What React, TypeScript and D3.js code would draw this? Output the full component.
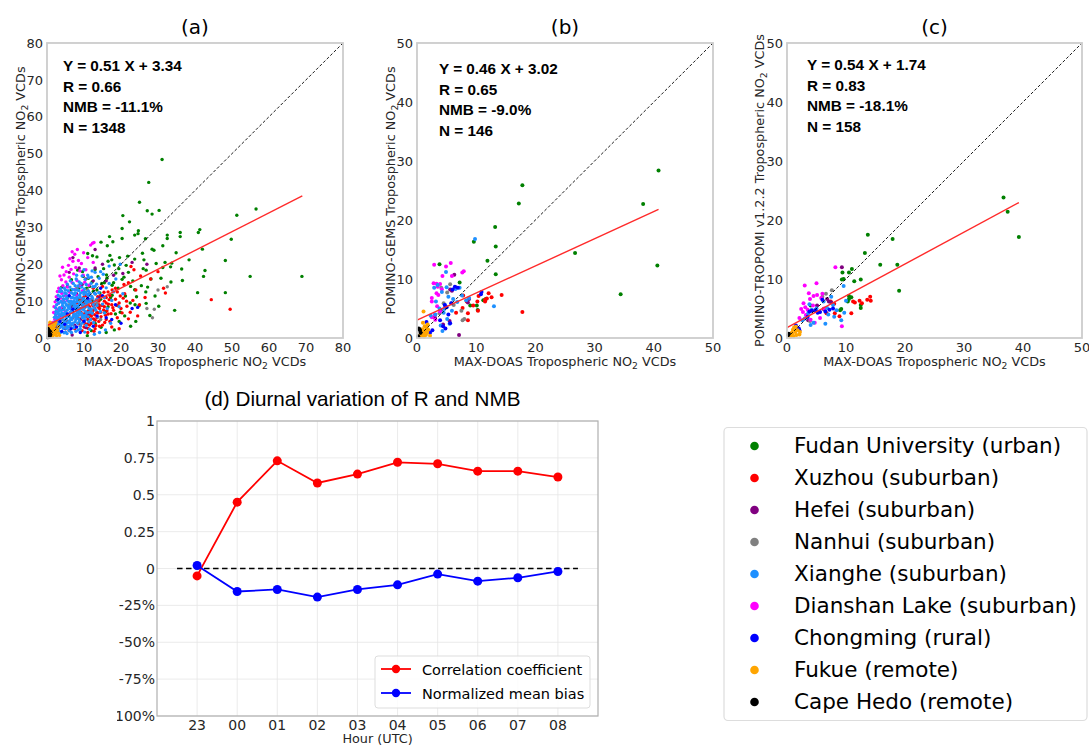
import React from "react";
import * as d3 from "d3";

type Pt = [number, number];

// ---------- site legend ----------
const SITE_NAMES = [
  "Fudan University (urban)",
  "Xuzhou (suburban)",
  "Hefei (suburban)",
  "Nanhui (suburban)",
  "Xianghe (suburban)",
  "Dianshan Lake (suburban)",
  "Chongming (rural)",
  "Fukue (remote)",
  "Cape Hedo (remote)",
];
const SITE_COLORS = ["#008000", "#ff0000", "#800080", "#808080", "#1e90ff", "#ff00ff", "#0000ff", "#ffa500", "#000000"];
// order in which the site groups are drawn (index into the lists above)
const DRAW_ORDER = [0, 1, 2, 3, 5, 4, 6, 7, 8];

// ---------- panel (a): POMINO-GEMS, all hours ----------
const A_FUDAN: Pt[] = [
  [31.1, 48.4], [27.5, 42.2], [25.0, 36.8], [27.1, 34.5], [28.4, 33.6], [30.3, 34.6], [20.5, 33.2], [22.3, 31.5],
  [20.3, 29.7], [23.7, 27.9], [24.7, 29.1], [24.6, 28.3], [16.9, 27.5], [17.8, 26.1], [20.3, 27.0], [26.6, 26.9],
  [31.3, 25.0], [32.5, 27.9], [32.5, 27.0], [36.0, 28.6], [36.0, 27.5], [41.3, 29.4], [40.9, 28.6], [51.3, 33.3],
  [56.5, 35.0], [49.8, 26.8], [42.0, 24.1], [34.9, 23.1], [38.4, 21.2], [36.4, 18.7], [42.7, 18.3], [42.3, 16.7],
  [48.2, 21.0], [54.9, 16.7], [68.9, 16.7], [40.7, 12.3], [48.2, 12.3], [36.6, 15.6], [34.5, 7.5], [30.2, 8.6],
  [28.1, 16.0], [31.3, 19.1], [33.4, 19.3], [33.7, 20.3], [31.9, 20.5], [28.4, 24.1], [28.9, 23.8], [26.2, 21.2],
  [23.7, 21.4], [26.8, 18.4], [21.4, 19.7], [19.4, 18.8], [16.3, 25.0], [14.6, 26.0], [17.0, 22.4], [16.5, 20.8],
  [17.5, 21.2], [13.5, 22.0], [12.3, 22.3], [11.0, 22.9], [13.0, 18.6], [16.1, 17.1], [18.6, 17.6], [20.3, 15.9],
  [17.6, 14.3], [22.6, 14.0], [23.7, 13.1], [26.7, 12.5], [23.8, 9.0], [24.9, 8.8], [27.8, 6.1], [21.2, 11.4],
  [17.6, 11.6], [14.3, 12.2], [12.5, 12.6], [10.7, 13.5], [8.6, 13.4], [4.0, 13.8], [2.6, 10.2], [14.0, 8.6],
  [15.8, 7.1], [11.3, 5.8], [14.6, 2.9], [10.9, 0.6], [8.3, 7.5], [19.0, 8.8], [6.6, 15.8], [9.8, 16.7],
  [8.3, 18.4], [5.5, 11.0], [7.0, 9.0], [8.5, 10.5], [10.0, 12.5], [11.5, 14.0], [12.5, 10.0], [9.0, 14.5],
  [6.5, 13.0], [13.5, 13.0], [14.5, 10.5], [15.5, 15.0], [4.5, 8.0], [16.5, 8.5], [18.5, 6.5], [19.5, 4.5],
  [21.0, 6.0], [22.5, 9.5], [13.0, 4.0], [12.0, 2.0], [16.0, 1.5], [14.8, 14.8], [16.2, 16.2], [18.0, 15.0],
  [19.2, 13.5], [20.8, 16.5], [22.0, 17.8], [23.2, 15.5], [24.2, 11.2], [25.5, 14.2], [27.2, 13.8], [18.2, 19.8],
  [15.3, 18.8], [13.8, 16.6], [12.2, 15.2], [11.2, 16.2], [9.6, 18.0], [21.8, 22.2], [25.8, 23.0], [29.5, 20.2],
  [30.8, 16.2], [33.5, 15.2], [26.0, 18.8], [19.6, 21.8], [17.2, 11.0], [19.8, 7.0], [24.0, 4.5], [22.6, 3.2],
  [18.2, 2.2], [26.8, 9.4], [29.2, 11.4],
];
const A_XUZHOU: Pt[] = [
  [44.4, 10.4], [49.5, 7.8], [32.0, 12.2], [22.7, 19.4], [23.5, 18.5], [25.3, 16.8], [22.0, 15.0], [20.8, 14.5],
  [19.0, 12.5], [24.0, 13.0], [26.5, 11.0], [21.5, 10.0], [19.5, 9.5], [17.5, 9.0], [16.0, 11.0], [15.0, 14.0],
  [14.0, 10.0], [13.0, 9.0], [12.5, 7.5], [11.5, 8.5], [10.5, 7.0], [9.5, 6.0], [11.0, 5.0], [12.0, 4.0],
  [13.5, 5.5], [14.5, 7.0], [15.5, 8.5], [16.5, 6.5], [17.0, 4.5], [18.0, 7.5], [10.0, 3.0], [8.5, 4.0],
  [9.0, 8.0], [8.0, 9.5], [10.0, 9.5], [12.0, 10.5], [13.0, 12.0], [14.5, 11.5], [16.5, 12.5], [18.5, 10.5],
  [20.0, 8.0], [22.5, 7.0], [24.5, 6.0], [19.0, 5.5], [15.0, 3.5], [13.0, 2.5], [11.0, 1.5], [9.5, 2.0],
  [7.5, 2.5], [6.5, 3.5], [7.0, 5.5], [12.0, 6.0], [13.5, 7.0], [11.0, 9.0], [9.0, 10.5], [10.5, 11.5],
  [15.5, 10.0], [17.0, 11.5], [18.5, 13.5], [21.0, 12.0], [28.0, 16.0], [31.5, 13.5], [30.0, 18.0], [12.5, 13.5],
  [11.5, 12.0], [14.0, 9.0], [16.0, 9.5], [10.0, 6.5], [8.5, 7.0], [11.5, 3.5], [14.0, 4.5], [16.0, 5.0],
  [17.5, 3.0], [19.5, 2.5], [6.0, 2.0], [5.5, 4.5], [12.8, 8.1], [11.2, 7.4], [13.8, 8.4], [10.8, 10.2],
  [12.3, 9.2], [14.8, 8.8], [9.8, 4.6], [10.6, 5.8], [12.6, 5.2], [13.2, 3.4], [15.8, 6.2], [17.8, 8.2],
  [20.6, 10.8], [22.0, 5.2], [25.0, 9.0], [11.8, 6.6], [8.9, 5.2], [10.3, 8.4], [16.8, 10.4], [9.2, 6.9],
  [10.1, 4.0], [11.3, 6.2], [12.2, 7.0], [12.9, 6.3], [13.8, 6.8], [14.6, 5.8], [15.3, 7.6], [16.2, 7.4],
  [17.3, 6.6], [11.6, 8.0], [10.8, 8.8], [12.4, 8.8], [13.4, 10.4], [14.2, 8.0], [15.0, 9.0], [16.6, 9.2],
  [9.6, 8.9], [8.2, 5.6], [9.0, 3.4], [10.9, 3.8], [12.0, 5.2], [13.0, 4.8], [14.2, 3.2], [15.6, 4.2],
  [18.8, 8.9], [19.8, 11.4], [21.6, 8.6], [23.2, 10.2], [20.3, 6.8], [11.1, 2.6], [12.7, 1.8], [9.9, 11.0],
  [13.7, 11.2], [15.4, 12.4], [17.6, 13.0], [7.9, 7.9], [8.8, 9.2],
];
const A_HEFEI: Pt[] = [
  [23.0, 20.5], [27.0, 20.0], [13.0, 24.0], [7.0, 21.8], [5.5, 14.0], [6.5, 8.5], [8.0, 12.0], [9.5, 14.5],
  [10.5, 16.0], [11.5, 10.0], [12.5, 15.5], [14.0, 11.0], [3.5, 6.0], [4.5, 10.5], [7.5, 3.5], [9.0, 5.0],
  [10.5, 2.8], [5.0, 2.5], [13.0, 19.0], [16.0, 15.5], [18.0, 17.0], [6.0, 17.8], [8.7, 19.0], [3.0, 3.2],
  [11.0, 6.5], [20.5, 17.5], [15.0, 20.0], [6.8, 0.8],
];
const A_NANHUI: Pt[] = [
  [32.5, 13.9], [28.5, 5.5], [29.0, 7.8], [27.0, 8.0], [6.0, 9.0], [7.5, 6.0], [9.0, 10.0], [10.0, 8.2],
  [12.0, 7.2], [4.0, 5.0], [5.0, 3.0], [11.0, 13.0], [8.0, 13.5], [13.5, 9.5], [3.0, 2.0], [14.5, 5.0], [30.0, 13.0],
];
const A_XIANGHE: Pt[] = [
  [2.1, 2.5], [2.4, 3.8], [2.8, 5.1], [3.0, 2.2], [3.3, 4.4], [3.5, 6.3], [3.7, 3.1], [3.9, 7.5], [4.1, 5.2],
  [4.2, 8.8], [4.4, 2.6], [4.6, 6.1], [4.8, 9.7], [5.0, 4.0], [5.1, 7.0], [5.3, 10.6], [5.5, 3.3], [5.6, 5.8],
  [5.8, 8.3], [6.0, 11.4], [6.1, 4.7], [6.3, 6.9], [6.5, 9.2], [6.6, 12.3], [6.8, 3.7], [7.0, 5.6], [7.1, 7.8],
  [7.3, 10.1], [7.5, 13.0], [7.6, 4.4], [7.8, 6.5], [8.0, 8.7], [8.2, 11.0], [8.4, 14.1], [8.5, 5.2], [8.7, 7.3],
  [8.9, 9.6], [9.1, 12.2], [9.3, 3.9], [9.5, 6.2], [9.7, 8.4], [9.9, 10.7], [10.1, 13.3], [10.3, 4.9], [10.5, 7.1],
  [10.7, 9.3], [10.9, 11.8], [11.1, 5.8], [11.4, 8.0], [11.6, 10.4], [11.9, 14.8], [12.2, 6.7], [12.5, 9.1],
  [12.8, 12.2], [13.2, 7.6], [13.6, 10.5], [14.1, 16.2], [14.5, 18.0], [15.2, 17.3], [13.0, 17.8], [12.0, 16.5],
  [16.8, 19.5], [18.0, 12.5], [17.2, 4.0], [15.8, 2.2], [14.2, 1.5], [12.8, 1.0], [11.5, 2.4], [10.2, 1.6],
  [19.5, 8.5], [20.5, 12.0], [2.6, 4.5], [3.1, 5.7], [3.4, 8.2], [3.8, 9.9], [4.3, 4.1], [4.5, 10.5], [4.9, 6.7],
  [5.2, 12.0], [5.4, 8.9], [5.7, 6.4], [5.9, 4.5], [6.2, 8.0], [6.4, 10.0], [6.7, 5.0], [6.9, 11.0], [7.2, 6.2],
  [7.4, 8.9], [7.7, 12.2], [7.9, 5.5], [8.1, 9.9], [8.3, 7.0], [8.6, 12.9], [8.8, 4.6], [9.0, 11.0], [9.2, 7.9],
  [9.4, 13.8], [9.6, 5.5], [9.8, 9.0], [10.0, 11.8], [10.4, 6.2], [10.6, 14.5], [10.8, 8.6], [11.2, 12.7],
  [11.5, 7.0], [11.8, 9.7], [12.1, 11.3], [12.4, 13.9], [12.7, 8.2], [13.1, 11.9], [13.4, 14.6], [2.3, 6.4],
  [2.9, 7.0], [3.2, 9.5], [3.6, 11.2], [4.0, 12.7], [4.7, 13.5], [5.5, 14.6], [6.3, 15.5], [7.1, 14.8],
  [7.9, 16.0], [8.7, 15.2], [9.5, 16.8], [10.3, 15.9], [11.0, 17.0], [6.0, 2.0], [7.2, 2.8], [8.4, 2.2],
  [5.0, 1.6], [3.6, 1.4], [2.6, 1.9], [4.1, 3.3], [5.7, 2.9], [6.9, 9.7], [7.6, 10.8], [8.2, 6.0], [9.0, 6.8],
  [9.9, 7.6], [5.3, 5.4], [4.6, 7.7], [3.9, 6.2], [6.6, 7.6], [7.4, 11.7], [10.6, 10.2], [11.3, 11.5],
  [12.9, 10.0], [14.0, 12.3], [15.0, 9.2], [16.0, 13.6], [13.7, 5.7], [15.5, 6.8], [17.5, 10.2], [16.3, 8.0],
  [1.8, 2.0], [2.0, 3.2], [2.2, 4.4], [2.5, 5.6], [2.7, 2.8], [2.9, 3.6], [3.1, 6.6], [3.3, 7.4], [3.4, 2.8],
  [3.6, 5.0], [3.8, 3.8], [4.0, 6.8], [4.2, 9.5], [4.3, 5.8], [4.5, 3.5], [4.7, 8.3], [4.8, 4.8], [5.0, 6.2],
  [5.2, 9.1], [5.3, 2.6], [5.5, 7.6], [5.6, 4.2], [5.8, 10.0], [6.0, 6.0], [6.1, 8.6], [6.2, 3.2], [6.4, 5.4],
  [6.5, 11.0], [6.7, 7.2], [6.8, 9.4], [7.0, 4.0], [7.1, 6.8], [7.3, 8.2], [7.4, 3.0], [7.6, 9.6], [7.8, 5.0],
  [8.0, 7.4], [8.1, 10.6], [8.3, 4.0], [8.5, 8.2], [8.6, 6.2], [8.8, 11.6], [9.0, 3.2], [9.2, 9.2], [9.4, 6.6],
  [9.6, 10.2], [9.8, 4.2], [10.0, 8.0], [10.2, 5.6], [10.4, 12.4], [10.6, 3.4], [10.8, 6.8], [11.0, 9.8],
  [11.3, 4.4], [11.6, 12.0], [11.9, 7.8], [12.3, 10.8], [2.3, 8.2], [2.6, 9.0], [2.8, 10.2], [3.0, 11.6],
  [3.4, 12.6], [3.7, 13.4], [4.4, 11.4], [5.0, 13.0], [5.7, 12.8], [6.2, 13.8], [6.9, 13.2], [7.6, 14.2],
  [8.2, 13.0], [9.2, 14.8], [9.8, 12.4], [3.9, 1.8], [4.6, 1.4], [5.4, 1.2], [6.6, 1.5], [7.8, 1.8], [9.0, 2.4],
  [2.0, 5.6], [1.6, 3.6], [1.4, 2.6], [6.3, 4.0], [5.1, 5.0], [4.4, 6.6], [3.5, 4.0], [7.5, 6.0], [8.9, 7.6],
  [9.7, 6.0], [10.3, 9.9], [6.0, 9.8], [5.4, 11.0], [4.8, 12.2], [7.0, 12.0], [7.9, 8.0], [8.7, 9.0], [3.2, 7.8],
  [2.4, 7.2], [11.8, 5.0], [12.6, 4.2], [13.5, 8.8], [14.4, 7.2], [13.0, 14.0], [15.5, 11.0], [16.8, 14.8],
  [18.6, 16.0], [19.8, 20.0], [11.2, 16.4], [12.2, 18.2], [8.0, 17.0], [10.0, 18.5],
];
const A_DIANSHAN: Pt[] = [
  [12.7, 25.9], [12.3, 25.7], [11.8, 25.2], [6.8, 23.4], [7.5, 22.7], [8.2, 24.0], [6.2, 21.5], [7.0, 20.8],
  [8.5, 21.0], [9.3, 20.2], [5.8, 19.7], [6.5, 18.6], [7.8, 19.1], [8.9, 18.2], [5.2, 18.0], [4.6, 17.1],
  [6.0, 16.5], [7.2, 17.4], [9.8, 17.0], [10.5, 18.5], [3.9, 15.8], [5.1, 15.2], [6.8, 15.0], [8.1, 15.6],
  [4.3, 14.2], [3.2, 13.5], [5.6, 13.8], [7.5, 13.2], [2.8, 12.6], [4.0, 12.1], [6.1, 12.4], [2.5, 11.2],
  [3.6, 10.8], [5.0, 11.5], [8.8, 14.1], [9.6, 12.8], [2.2, 9.8], [3.1, 9.4], [4.4, 9.9], [1.9, 8.5],
  [2.7, 7.8], [3.8, 8.2], [1.8, 6.9], [2.4, 6.2], [3.3, 5.6], [5.5, 10.2], [6.6, 10.9], [7.9, 11.6],
  [10.2, 15.1], [11.3, 14.3], [2.1, 5.0], [4.9, 7.2], [1.5, 4.2], [3.0, 4.0], [12.5, 20.5], [11.0, 21.8],
  [4.2, 19.2], [9.9, 23.1], [3.5, 16.8], [6.3, 7.0],
];
const A_CHONGMING: Pt[] = [
  [23.0, 8.0], [24.5, 8.3], [16.0, 5.5], [17.5, 5.0], [10.0, 4.5], [8.0, 3.0], [6.5, 2.5], [4.0, 1.8],
  [5.5, 6.5], [3.5, 4.5], [12.5, 3.2], [13.5, 6.0], [9.0, 1.5], [2.5, 3.0], [7.0, 7.8], [11.0, 10.8],
  [6.0, 11.5], [3.0, 10.5], [15.0, 11.5], [18.5, 9.0], [14.5, 13.5], [4.8, 3.7], [2.2, 1.0], [20.0, 4.0],
];
const A_FUKUE: Pt[] = [
  [0.3, 0.5], [0.5, 1.2], [0.7, 2.0], [0.9, 0.8], [1.1, 1.6], [1.3, 2.6], [1.5, 0.4], [1.7, 1.9], [1.9, 3.2],
  [2.1, 0.9], [2.3, 2.4], [2.5, 1.4], [0.4, 2.9], [0.6, 3.6], [0.8, 4.3], [1.0, 3.1], [1.2, 0.2], [1.4, 1.1],
  [1.6, 3.8], [1.8, 2.7], [2.0, 1.7], [2.2, 3.5], [2.6, 0.6], [2.8, 2.1], [3.1, 1.3], [3.4, 0.7], [0.2, 1.6],
  [0.5, 0.2], [1.0, 2.4], [1.3, 4.0], [1.6, 0.9], [1.9, 1.3], [0.7, 1.5], [2.4, 4.2], [3.0, 3.0],
];
const A_CAPEHEDO: Pt[] = [
  [0.2, 0.3], [0.3, 0.9], [0.4, 1.5], [0.5, 0.6], [0.6, 2.1], [0.7, 1.1], [0.8, 0.4], [0.9, 1.8], [0.3, 2.6],
  [0.5, 1.3], [0.2, 0.1], [1.0, 0.9], [0.6, 0.2], [0.4, 2.3],
];

// ---------- panel (b): POMINO-GEMS, TROPOMI overpass ----------
const B_FUDAN: Pt[] = [
  [40.8, 28.4], [17.8, 25.9], [17.2, 22.8], [38.2, 22.7], [26.7, 14.4], [40.6, 12.3], [34.4, 7.4], [13.2, 18.8],
  [13.3, 15.5], [11.9, 13.1], [13.3, 10.8], [9.6, 16.3], [3.8, 12.5], [7.2, 9.4], [9.0, 5.5], [10.1, 5.5],
  [10.25, 4.75], [11.2, 6.4], [11.6, 6.6],
];
const B_XUZHOU: Pt[] = [
  [17.8, 4.4], [14.3, 7.3], [12.1, 7.6], [12.6, 6.9], [11.5, 6.5], [10.4, 7.1], [10.2, 6.2], [10.3, 4.6],
  [8.6, 4.2], [8.6, 3.0], [6.6, 4.3], [7.7, 5.1], [9.5, 5.5], [11.5, 6.2], [11.8, 6.7], [8.4, 6.2], [7.8, 7.2],
];
const B_HEFEI: Pt[] = [
  [6.3, 10.7], [5.6, 8.2], [5.9, 8.0], [6.5, 8.6], [8.8, 6.6], [8.6, 6.0], [4.4, 2.3], [7.1, 0.5], [5.5, 2.9],
  [4.0, 4.7], [3.0, 3.5],
];
const B_NANHUI: Pt[] = [[5.6, 9.1], [5.1, 7.7], [7.5, 4.6], [8.0, 3.2], [7.7, 3.0], [4.5, 5.9], [3.8, 4.2], [6.2, 5.6], [4.1, 8.5]];
const B_XIANGHE: Pt[] = [
  [4.9, 11.2], [3.5, 9.0], [2.9, 8.5], [4.2, 7.8], [5.3, 7.0], [6.5, 8.3], [7.2, 8.5], [6.8, 6.1], [5.8, 5.9],
  [4.7, 5.6], [3.8, 5.0], [3.1, 4.0], [4.5, 4.3], [5.1, 3.2], [4.0, 2.1], [4.3, 1.2], [5.5, 2.4], [6.1, 6.6],
  [7.6, 7.2], [8.3, 6.4], [9.8, 16.8], [13.0, 5.4], [2.3, 3.8], [5.0, 8.6], [3.2, 6.2], [8.8, 6.8], [4.6, 4.9], [5.9, 4.6],
];
const B_DIANSHAN: Pt[] = [
  [2.9, 12.4], [4.9, 12.1], [5.7, 12.7], [4.3, 10.5], [7.9, 11.3], [2.5, 6.8], [2.5, 6.2], [3.3, 7.6], [2.8, 9.3],
  [3.3, 9.2], [3.9, 9.15], [3.5, 8.7], [4.2, 8.25], [3.6, 7.3], [2.5, 3.5], [3.0, 3.95], [7.65, 11.1], [5.9, 10.5],
  [3.4, 5.4], [4.8, 5.3], [3.9, 4.5], [3.1, 3.1],
];
const B_CHONGMING: Pt[] = [
  [6.4, 8.7], [6.9, 8.5], [6.0, 8.2], [4.7, 5.6], [5.0, 5.2], [3.9, 3.0], [2.2, 0.9], [2.6, 1.3], [5.6, 2.5],
  [4.4, 2.0], [10.9, 7.8], [10.8, 7.4], [1.6, 2.7], [5.3, 4.0], [4.8, 1.6], [5.8, 5.9],
];
const B_FUKUE: Pt[] = [
  [1.1, 4.5], [1.8, 2.3], [1.6, 1.8], [1.4, 1.3], [1.2, 1.0], [1.0, 0.7], [0.8, 0.3], [1.5, 0.5], [0.9, 1.5],
  [1.3, 2.0], [0.7, 1.1], [1.9, 1.4], [1.0, 2.6], [0.6, 0.6], [1.7, 0.9], [2.2, 0.4], [1.2, 0.2], [0.5, 0.2],
];
const B_CAPEHEDO: Pt[] = [[0.4, 1.5], [0.5, 1.3], [0.3, 1.6], [0.6, 0.9], [0.2, 0.3]];

// ---------- panel (c): POMINO-TROPOMI ----------
const C_FUDAN: Pt[] = [
  [36.7, 23.8], [37.4, 21.4], [39.3, 17.1], [13.7, 17.5], [17.9, 16.8], [13.2, 14.4], [15.8, 12.4], [18.7, 12.4],
  [19.0, 8.0], [11.4, 9.6], [12.5, 9.9], [9.6, 10.0], [9.3, 9.9], [9.4, 11.1], [10.5, 11.1], [11.0, 11.7],
  [10.5, 7.1], [10.5, 6.6], [10.3, 6.2], [12.5, 5.6], [12.5, 5.1], [9.2, 4.9], [4.0, 5.5], [9.0, 4.7], [10.9, 6.9],
];
const C_XUZHOU: Pt[] = [
  [8.9, 3.7], [8.1, 4.2], [6.7, 4.2], [10.9, 4.2], [11.2, 6.2], [12.3, 6.3], [12.7, 5.9], [13.6, 6.5], [14.1, 7.0],
  [14.2, 6.3], [8.0, 5.8], [7.4, 6.2], [11.5, 6.0],
];
const C_HEFEI: Pt[] = [[9.3, 12.0], [7.1, 6.2], [6.8, 6.6], [5.1, 5.5], [7.5, 6.0], [3.6, 3.0], [6.2, 4.9]];
const C_NANHUI: Pt[] = [[7.6, 8.1], [6.6, 7.5], [6.0, 7.0], [3.9, 2.9], [4.9, 4.7]];
const C_XIANGHE: Pt[] = [
  [9.6, 8.8], [7.5, 7.0], [6.2, 6.2], [5.0, 5.0], [4.2, 4.8], [3.6, 4.2], [3.0, 3.3], [4.5, 2.6], [4.0, 2.2],
  [6.5, 2.4], [8.0, 3.6], [9.7, 4.3], [10.0, 6.3], [5.5, 4.4], [7.0, 4.0], [7.8, 5.6], [9.2, 3.0], [3.8, 5.7],
  [6.8, 5.1], [2.6, 3.0], [8.4, 4.7],
];
const C_DIANSHAN: Pt[] = [
  [8.2, 12.0], [3.0, 8.9], [5.0, 9.3], [9.3, 2.0], [3.7, 7.6], [4.5, 7.1], [5.1, 7.3], [2.8, 5.9], [2.7, 4.4],
  [3.5, 4.8], [4.0, 3.1], [5.6, 3.4], [2.1, 3.4], [4.4, 5.5], [3.2, 3.9], [5.8, 6.8], [6.3, 5.0], [2.4, 4.9],
  [3.9, 6.6], [4.7, 2.6], [3.1, 5.2], [6.0, 7.5],
];
const C_CHONGMING: Pt[] = [
  [6.0, 6.5], [5.6, 4.4], [4.8, 4.7], [3.8, 4.5], [7.2, 4.8], [6.5, 4.5], [1.5, 2.1], [2.0, 1.6], [2.1, 1.3],
  [3.5, 3.6], [5.2, 4.3], [7.8, 5.0], [4.2, 4.6],
];
const C_FUKUE: Pt[] = [
  [0.6, 0.5], [0.8, 0.9], [1.0, 1.4], [1.2, 1.8], [1.4, 1.0], [1.6, 0.5], [1.1, 0.3], [0.9, 0.6], [1.8, 1.3],
  [2.2, 1.0], [2.1, 0.6], [1.3, 1.5], [0.7, 0.3], [1.5, 1.9], [0.5, 0.2],
];
const C_CAPEHEDO: Pt[] = [[0.2, 0.5], [0.3, 0.7]];

// ---------- fits & stats ----------
const FIT_A = { slope: 0.51, intercept: 3.34, xEnd: 69 };
const FIT_B = { slope: 0.46, intercept: 3.02, xEnd: 40.8 };
const FIT_C = { slope: 0.54, intercept: 1.74, xEnd: 39.3 };
const STATS_A = ["Y = 0.51 X + 3.34", "R = 0.66", "NMB = -11.1%", "N = 1348"];
const STATS_B = ["Y = 0.46 X + 3.02", "R = 0.65", "NMB = -9.0%", "N = 146"];
const STATS_C = ["Y = 0.54 X + 1.74", "R = 0.83", "NMB = -18.1%", "N = 158"];
const TICKS_80 = [0, 10, 20, 30, 40, 50, 60, 70, 80];
const TICKS_50 = [0, 10, 20, 30, 40, 50];

// ---------- panel (d) ----------
const HOURS = ["23", "00", "01", "02", "03", "04", "05", "06", "07", "08"];
const R_VALUES = [-0.05, 0.45, 0.73, 0.58, 0.64, 0.72, 0.71, 0.66, 0.66, 0.62];
const NMB_VALUES = [0.02, -0.156, -0.142, -0.194, -0.142, -0.111, -0.038, -0.086, -0.063, -0.02];
const D_YTICKS = [1, 0.75, 0.5, 0.25, 0, -0.25, -0.5, -0.75, -1];
const D_YLABELS = ["1", "0.75", "0.5", "0.25", "0", "-25%", "-50%", "-75%", "-100%"];

const FONT = "'DejaVu Sans', sans-serif";
const ARIAL = "'Liberation Sans', Arial, sans-serif";

type ScatterProps = {
  left: number; top: number; right: number; bottom: number; max: number; ticks: number[];
  groups: Pt[][]; fit: { slope: number; intercept: number; xEnd: number }; stats: string[];
  statsX: number; statsY: number; title: string; ylabelMain: string; ylabelX: number; r: number;
};

function NO2Label({ prefix }: { prefix: string }) {
  return (
    <>
      {prefix}NO<tspan fontSize={9.2} dy={3}>2</tspan>
      <tspan dy={-3}> VCDs</tspan>
    </>
  );
}

function Scatter(p: ScatterProps) {
  const x = d3.scaleLinear().domain([0, p.max]).range([p.left, p.right]);
  const y = d3.scaleLinear().domain([0, p.max]).range([p.bottom, p.top]);
  const cx = (p.left + p.right) / 2;
  const cy = (p.top + p.bottom) / 2;
  return (
    <g>
      <text x={cx} y={p.top - 9} textAnchor="middle" fontFamily={FONT} fontSize={20} fill="#000">{p.title}</text>
      {DRAW_ORDER.map((gi) =>
        p.groups[gi].map((d, i) => (
          <circle key={gi + "-" + i} cx={x(d[0])} cy={y(d[1])} r={p.r} fill={SITE_COLORS[gi]} />
        ))
      )}
      <line x1={x(0)} y1={y(0)} x2={x(p.max)} y2={y(p.max)} stroke="#000" strokeWidth={0.9} strokeDasharray="3,2" />
      <line x1={x(0)} y1={y(p.fit.intercept)} x2={x(p.fit.xEnd)} y2={y(p.fit.slope * p.fit.xEnd + p.fit.intercept)}
        stroke="#ff2a2a" strokeWidth={1.4} />
      <rect x={p.left} y={p.top} width={p.right - p.left} height={p.bottom - p.top} fill="none" stroke="#cccccc" strokeWidth={1.8} />
      {p.ticks.map((t) => (
        <text key={"x" + t} x={x(t)} y={p.bottom + 14} textAnchor="middle" fontFamily={FONT} fontSize={13} fill="#262626">{t}</text>
      ))}
      {p.ticks.map((t) => (
        <text key={"y" + t} x={p.left - 4} y={y(t) + 4.7} textAnchor="end" fontFamily={FONT} fontSize={13} fill="#262626">{t}</text>
      ))}
      <text x={cx} y={p.bottom + 28} textAnchor="middle" fontFamily={FONT} fontSize={12.8} fill="#262626">
        <NO2Label prefix="MAX-DOAS Tropospheric " />
      </text>
      <text transform={`translate(${p.ylabelX},${cy}) rotate(-90)`} textAnchor="middle" fontFamily={FONT} fontSize={12.8} fill="#262626">
        <NO2Label prefix={p.ylabelMain} />
      </text>
      {p.stats.map((s, i) => (
        <text key={s} x={p.statsX} y={p.statsY + i * 20.5} fontFamily={ARIAL} fontWeight="bold" fontSize={15.3} fill="#000">{s}</text>
      ))}
    </g>
  );
}

function Diurnal() {
  const left = 157, right = 598, top = 421, bottom = 716;
  const x = d3.scaleLinear().domain([-1, 10]).range([left, right]);
  const y = d3.scaleLinear().domain([-1, 1]).range([bottom, top]);
  const idx = HOURS.map((_, i) => i);
  const rPath = d3.line<number>().x((i) => x(i)).y((i) => y(R_VALUES[i]))(idx) || "";
  const nPath = d3.line<number>().x((i) => x(i)).y((i) => y(NMB_VALUES[i]))(idx) || "";
  return (
    <g>
      <defs>
        <clipPath id="dclip"><rect x={117} y={380} width={600} height={367} /></clipPath>
      </defs>
      <text x={362.5} y={406} textAnchor="middle" fontFamily={ARIAL} fontSize={20.7} fill="#000">(d) Diurnal variation of R and NMB</text>
      {idx.map((i) => (
        <line key={"gx" + i} x1={x(i)} x2={x(i)} y1={top} y2={bottom} stroke="#e6e6e6" strokeWidth={0.8} />
      ))}
      {D_YTICKS.map((t) => (
        <line key={"gy" + t} x1={left} x2={right} y1={y(t)} y2={y(t)} stroke="#e6e6e6" strokeWidth={0.8} />
      ))}
      <rect x={left} y={top} width={right - left} height={bottom - top} fill="none" stroke="#b0b0b0" strokeWidth={1.2} />
      <line x1={x(-0.5)} x2={x(9.5)} y1={y(0)} y2={y(0)} stroke="#000" strokeWidth={1.5} strokeDasharray="5.5,3.5" />
      <path d={rPath} fill="none" stroke="#ff0000" strokeWidth={1.8} />
      {idx.map((i) => <circle key={"r" + i} cx={x(i)} cy={y(R_VALUES[i])} r={4.5} fill="#ff0000" />)}
      <path d={nPath} fill="none" stroke="#0000ff" strokeWidth={1.8} />
      {idx.map((i) => <circle key={"n" + i} cx={x(i)} cy={y(NMB_VALUES[i])} r={4.5} fill="#0000ff" />)}
      <g clipPath="url(#dclip)">
        {D_YTICKS.map((t, i) => (
          <text key={"yl" + t} x={left - 2} y={y(t) + 5} textAnchor="end" fontFamily={FONT} fontSize={14} fill="#262626">{D_YLABELS[i]}</text>
        ))}
      </g>
      {idx.map((i) => (
        <text key={"xl" + i} x={x(i)} y={730} textAnchor="middle" fontFamily={FONT} fontSize={14} fill="#262626">{HOURS[i]}</text>
      ))}
      <text x={377.5} y={743} textAnchor="middle" fontFamily={FONT} fontSize={12.8} fill="#262626">Hour (UTC)</text>
      <rect x={375} y={656} width={215} height={52} rx={3} fill="#fff" fillOpacity={0.85} stroke="#dddddd" strokeWidth={1} />
      <line x1={381} x2={411} y1={669} y2={669} stroke="#ff0000" strokeWidth={1.8} />
      <circle cx={396} cy={669} r={4.2} fill="#ff0000" />
      <text x={422} y={675} fontFamily={FONT} fontSize={14.5} fill="#000">Correlation coefficient</text>
      <line x1={381} x2={411} y1={693} y2={693} stroke="#0000ff" strokeWidth={1.8} />
      <circle cx={396} cy={693} r={4.2} fill="#0000ff" />
      <text x={422} y={699} fontFamily={FONT} fontSize={14.5} fill="#000">Normalized mean bias</text>
    </g>
  );
}

function SiteLegend() {
  return (
    <g>
      <rect x={724} y={427.5} width={363} height={293} rx={4} fill="#fff" stroke="#dddddd" strokeWidth={1.2} />
      {SITE_NAMES.map((n, i) => (
        <g key={n}>
          <circle cx={754.5} cy={446 + i * 32} r={4.3} fill={SITE_COLORS[i]} />
          <text x={794} y={452.7 + i * 32} fontFamily={FONT} fontSize={21.5} fill="#000">{n}</text>
        </g>
      ))}
    </g>
  );
}

export default function App() {
  return (
    <svg width={1089} height={747} style={{ position: "absolute", left: 0, top: 0, background: "#fff" }}>
      <rect x={0} y={0} width={1089} height={747} fill="#fff" />
      <Scatter left={47} top={43} right={343} bottom={338} max={80} ticks={TICKS_80}
        groups={[A_FUDAN, A_XUZHOU, A_HEFEI, A_NANHUI, A_XIANGHE, A_DIANSHAN, A_CHONGMING, A_FUKUE, A_CAPEHEDO]}
        fit={FIT_A} stats={STATS_A} statsX={63} statsY={71} title="(a)"
        ylabelMain="POMINO-GEMS Tropospheric " ylabelX={25} r={1.7} />
      <Scatter left={417} top={43} right={713} bottom={338} max={50} ticks={TICKS_50}
        groups={[B_FUDAN, B_XUZHOU, B_HEFEI, B_NANHUI, B_XIANGHE, B_DIANSHAN, B_CHONGMING, B_FUKUE, B_CAPEHEDO]}
        fit={FIT_B} stats={STATS_B} statsX={439} statsY={74} title="(b)"
        ylabelMain="POMINO-GEMS Tropospheric " ylabelX={395} r={2} />
      <Scatter left={787} top={43} right={1082} bottom={338} max={50} ticks={TICKS_50}
        groups={[C_FUDAN, C_XUZHOU, C_HEFEI, C_NANHUI, C_XIANGHE, C_DIANSHAN, C_CHONGMING, C_FUKUE, C_CAPEHEDO]}
        fit={FIT_C} stats={STATS_C} statsX={807} statsY={70} title="(c)"
        ylabelMain="POMINO-TROPOMI v1.2.2 Tropospheric " ylabelX={764} r={2} />
      <Diurnal />
      <SiteLegend />
    </svg>
  );
}
